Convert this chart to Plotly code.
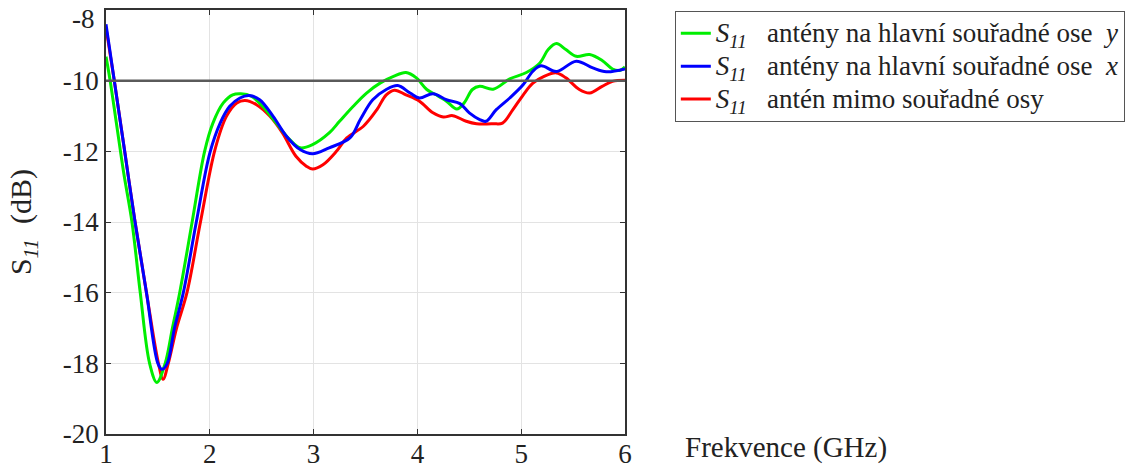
import plotly.graph_objects as go

# Frequency (GHz) and S11 (dB)
green_x = [1.0, 1.04, 1.10, 1.17, 1.25, 1.33, 1.42, 1.49, 1.57, 1.64, 1.71, 1.83, 1.95, 2.03, 2.13, 2.22, 2.30, 2.40, 2.51, 2.64, 2.77, 2.87, 2.99, 3.15, 3.25, 3.38, 3.51, 3.64, 3.77, 3.89, 3.99, 4.09, 4.18, 4.28, 4.38, 4.45, 4.53, 4.60, 4.73, 4.89, 5.05, 5.18, 5.26, 5.34, 5.43, 5.53, 5.66, 5.78, 5.88, 5.95, 6.0]
green_y = [-9.32, -10.0, -11.2, -12.6, -14.0, -16.0, -18.0, -18.54, -18.0, -17.0, -16.0, -14.0, -12.0, -11.2, -10.63, -10.40, -10.37, -10.44, -10.73, -11.20, -11.67, -11.90, -11.81, -11.48, -11.15, -10.73, -10.35, -10.07, -9.88, -9.77, -9.92, -10.25, -10.40, -10.58, -10.80, -10.63, -10.25, -10.16, -10.24, -9.95, -9.77, -9.50, -9.12, -8.95, -9.12, -9.31, -9.26, -9.43, -9.67, -9.71, -9.61]

blue_x = [1.0, 1.08, 1.18, 1.28, 1.39, 1.50, 1.54, 1.59, 1.66, 1.745, 1.87, 2.0, 2.10, 2.19, 2.29, 2.38, 2.48, 2.61, 2.74, 2.87, 2.99, 3.15, 3.35, 3.45, 3.57, 3.70, 3.81, 3.93, 4.02, 4.15, 4.28, 4.41, 4.50, 4.60, 4.66, 4.76, 4.89, 5.02, 5.11, 5.19, 5.34, 5.53, 5.69, 5.82, 6.0]
blue_y = [-8.4, -10.0, -12.0, -14.0, -16.0, -18.0, -18.17, -18.0, -17.0, -16.0, -14.0, -12.05, -11.20, -10.73, -10.49, -10.42, -10.54, -11.01, -11.58, -11.95, -12.07, -11.90, -11.62, -11.10, -10.54, -10.25, -10.14, -10.35, -10.49, -10.37, -10.54, -10.65, -10.91, -11.10, -11.15, -10.82, -10.49, -10.11, -9.74, -9.58, -9.74, -9.45, -9.64, -9.75, -9.67]

red_x = [1.0, 1.08, 1.18, 1.28, 1.39, 1.505, 1.55, 1.60, 1.68, 1.78, 1.91, 2.05, 2.16, 2.26, 2.34, 2.45, 2.58, 2.70, 2.83, 2.93, 2.99, 3.09, 3.22, 3.32, 3.48, 3.61, 3.70, 3.78, 3.89, 4.02, 4.15, 4.25, 4.34, 4.47, 4.57, 4.73, 4.82, 4.92, 5.02, 5.11, 5.22, 5.34, 5.43, 5.56, 5.66, 5.78, 5.88, 6.0]
red_y = [-8.5, -10.0, -12.0, -14.0, -16.0, -18.0, -18.45, -18.0, -17.0, -16.0, -14.0, -11.95, -11.01, -10.63, -10.56, -10.68, -11.01, -11.48, -12.14, -12.42, -12.50, -12.38, -12.0, -11.62, -11.29, -10.82, -10.40, -10.27, -10.40, -10.58, -10.91, -11.03, -10.99, -11.15, -11.22, -11.22, -11.20, -10.82, -10.40, -10.08, -9.88, -9.78, -9.92, -10.25, -10.35, -10.16, -10.02, -9.99]

threshold_db = -10
x_ticks = [1, 2, 3, 4, 5, 6]
y_ticks = [-20, -18, -16, -14, -12, -10, -8]

NB = "\u00a0"
S11 = "<i>S</i><sub><i>11</i></sub>"
legend_texts = [
    f"{S11}{NB}{NB}{NB}antény na hlavní souřadné ose{NB}{NB}<i>y</i>",
    f"{S11}{NB}{NB}{NB}antény na hlavní souřadné ose{NB}{NB}<i>x</i>",
    f"{S11}{NB}{NB}{NB}antén mimo souřadné osy",
]
names = [f'<span style="font-size:27px">{t}</span>' for t in legend_texts]
colors = ["#00ee00", "#0000ff", "#ff0000"]
xs_all = [green_x, blue_x, red_x]
ys_all = [green_y, blue_y, red_y]

FONT = "Times New Roman, Liberation Serif, serif"
TXT = "#222222"
fig = go.Figure()

fig.add_shape(type="line", xref="x", yref="y", x0=x_ticks[0], x1=x_ticks[-1],
              y0=threshold_db, y1=threshold_db, line=dict(color="#5a5a5a", width=2.5), layer="above")

# draw order: red, green, blue (blue on top); legend order green, blue, red
for i in [2, 0, 1]:
    fig.add_trace(go.Scatter(x=xs_all[i], y=ys_all[i], mode="lines", name=names[i],
                             line=dict(color=colors[i], width=3, shape="spline", smoothing=1.0),
                             legendrank=i + 1))

axis_common = dict(showgrid=True, gridcolor="#e3e3e3", gridwidth=1,
                   showline=True, linecolor="#333333", linewidth=1.5, mirror="allticks",
                   ticks="inside", ticklen=5, tickcolor="#333333", zeroline=False,
                   automargin=False, ticklabeloverflow="allow",
                   tickfont=dict(family=FONT, size=27, color=TXT))

# the top tick label sits slightly below its tick in the reference (kept inside the figure)
top_tick = y_ticks[-1]
y_ticktext = [str(v) if v != top_tick else "" for v in y_ticks]

fig.update_layout(
    width=1129, height=469,
    margin=dict(l=106, r=504, t=10, b=35, autoexpand=False),
    paper_bgcolor="white", plot_bgcolor="white",
    font=dict(family=FONT, size=26, color=TXT),
    showlegend=True,
    legend=dict(x=1.096, y=0.998, xanchor="left", yanchor="top",
                bordercolor="#555555", borderwidth=1, bgcolor="white",
                font=dict(family=FONT, size=23, color=TXT),
                tracegroupgap=0, itemwidth=30),
    xaxis=dict(range=[1, 6], tickvals=x_ticks, ticktext=[str(v) for v in x_ticks],
               ticklabelstandoff=-5, **axis_common),
    yaxis=dict(range=[-20, -8], tickvals=y_ticks, ticktext=y_ticktext,
               title=dict(text=f"S<sub><i>11</i></sub>{NB}{NB}(dB)",
                          font=dict(family=FONT, size=30, color=TXT), standoff=22),
               **axis_common),
    annotations=[
        dict(text="Frekvence (GHz)", xref="paper", yref="paper", x=1.112, y=-0.031,
             xanchor="left", yanchor="middle", showarrow=False,
             font=dict(family=FONT, size=29, color=TXT)),
        dict(text=str(top_tick), xref="paper", yref="y", x=0, y=top_tick,
             xanchor="right", yanchor="middle", xshift=-9, yshift=-9, showarrow=False,
             font=dict(family=FONT, size=27, color=TXT)),
    ],
)

fig.write_html("out.html", config={"displayModeBar": False},
               post_script="document.body.style.margin='0';document.body.style.overflow='hidden';")
